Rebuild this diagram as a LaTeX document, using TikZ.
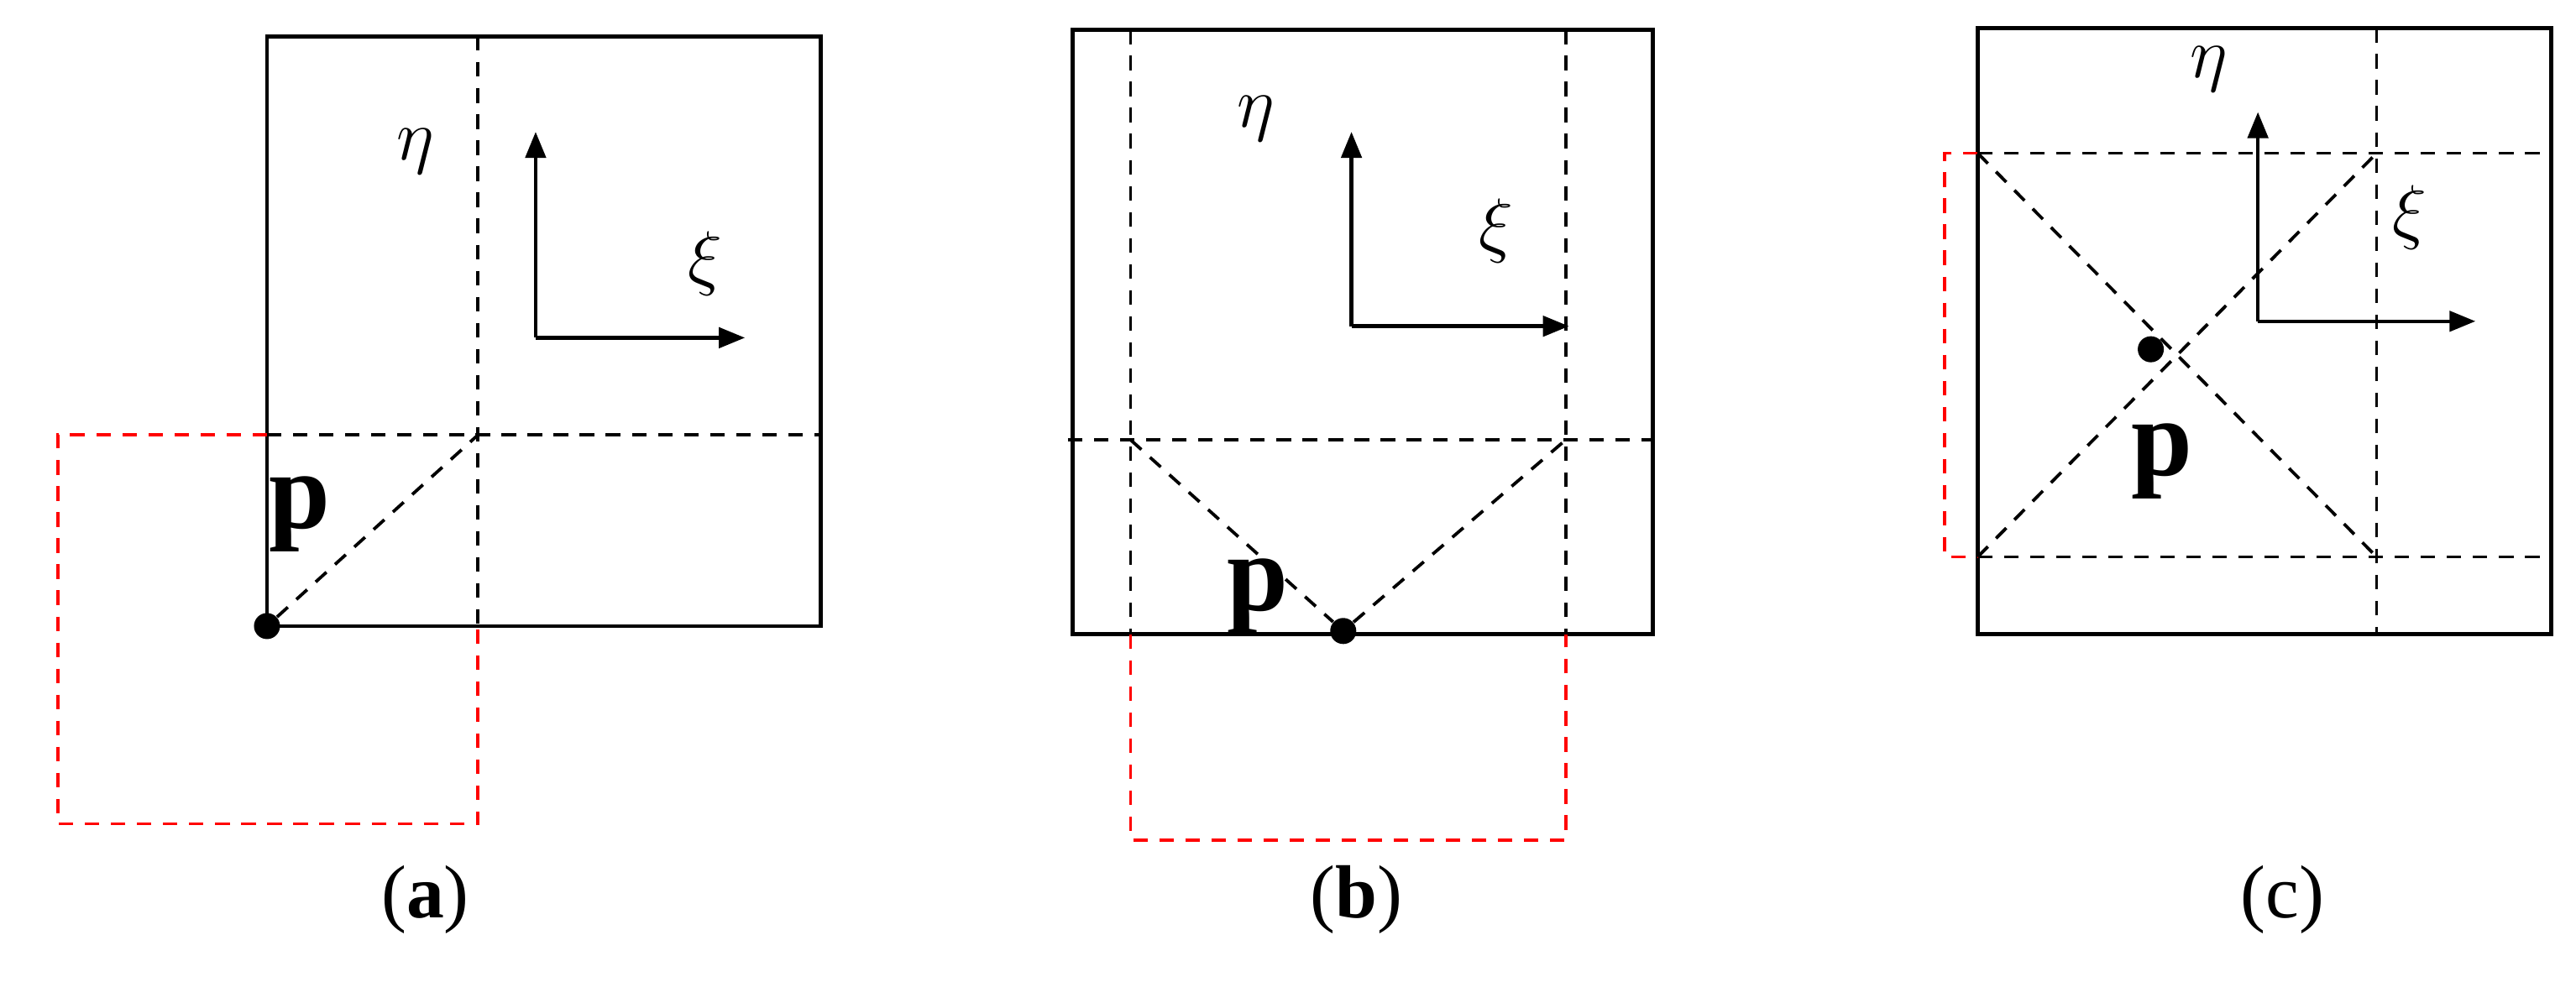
\documentclass[tikz,border=0pt]{standalone}
\usetikzlibrary{arrows.meta}
\usepackage{fontspec}
\setmainfont{Liberation Serif}
\begin{document}
\begin{tikzpicture}[x=0.02cm,y=-0.02cm,
  box/.style={line width=1.4pt},
  dsh/.style={dashed,line width=1.1pt,dash pattern=on 5pt off 4pt},
  rdsh/.style={dsh,red},
  ax/.style={line width=1.3pt,-{Triangle[length=9pt,width=7pt]}},
  dot/.style={circle,fill,inner sep=0pt,minimum size=9pt},
  gr/.style={font=\fontsize{44}{46}\selectfont},
  pl/.style={font=\fontsize{38}{40}\selectfont\bfseries},
  captxt/.style={font=\fontsize{26}{28}\selectfont}]
\useasboundingbox (0,0) rectangle (1563,596);
% (a)
\draw[box] (162,22) rectangle (498,380);
\draw[dsh] (290,22) -- (290,380);
\draw[dsh] (162,264) -- (498,264);
\draw[rdsh] (162,264) -- (35,264) -- (35,500) -- (290,500) -- (290,380);
\node[dot] (pa) at (162,380) {};
\coordinate (qa) at (290,264);
\draw[dsh] (pa) -- (qa);
\node[pl] (la) at (182,312) {p};
\node[gr] (ea) at (252,92) {$\eta$};
\coordinate (oa) at (325,205);
\draw[ax] (oa) -- (325,80);
\draw[ax] (oa) -- (452,205);
\node[gr] (xa) at (428,160) {$\xi$};
\node[captxt] (ca) at (258,546) {(\textbf{a})};
% (b)
\draw[box] (651,18) rectangle (1003,385);
\draw[dsh] (686,18) -- (686,385);
\draw[dsh] (950,18) -- (950,385);
\draw[dsh] (648,267) -- (1003,267);
\draw[rdsh] (686,385) -- (686,510) -- (950,510) -- (950,385);
\node[dot] (pb) at (815,383) {};
\coordinate (q1b) at (686,267);
\coordinate (q2b) at (950,267);
\draw[dsh] (q1b) -- (pb) -- (q2b);
\node[pl] (lb) at (763,362) {p};
\node[gr] (eb) at (762,72) {$\eta$};
\coordinate (ob) at (820,198);
\draw[ax] (ob) -- (820,80);
\draw[ax] (ob) -- (952,198);
\node[gr] (xb) at (908,140) {$\xi$};
\node[captxt] (cb) at (823,546) {(\textbf{b})};
% (c)
\draw[box] (1200,17) rectangle (1548,385);
\draw[dsh] (1442,17) -- (1442,385);
\draw[dsh] (1200,93) -- (1548,93);
\draw[dsh] (1200,338) -- (1548,338);
\draw[rdsh] (1200,93) -- (1180,93) -- (1180,338) -- (1200,338);
\coordinate (c1) at (1200,93);
\coordinate (c2) at (1442,338);
\coordinate (c3) at (1200,338);
\coordinate (c4) at (1442,93);
\draw[dsh] (c1) -- (c2);
\draw[dsh] (c3) -- (c4);
\node[dot] (pc) at (1305,212) {};
\node[pl] (lc) at (1312,280) {p};
\node[gr] (ec) at (1340,42) {$\eta$};
\coordinate (oc) at (1370,195);
\draw[ax] (oc) -- (1370,68);
\draw[ax] (oc) -- (1502,195);
\node[gr] (xc) at (1462,132) {$\xi$};
\node[captxt] (cc) at (1385,546) {(c)};
\end{tikzpicture}
\end{document}
